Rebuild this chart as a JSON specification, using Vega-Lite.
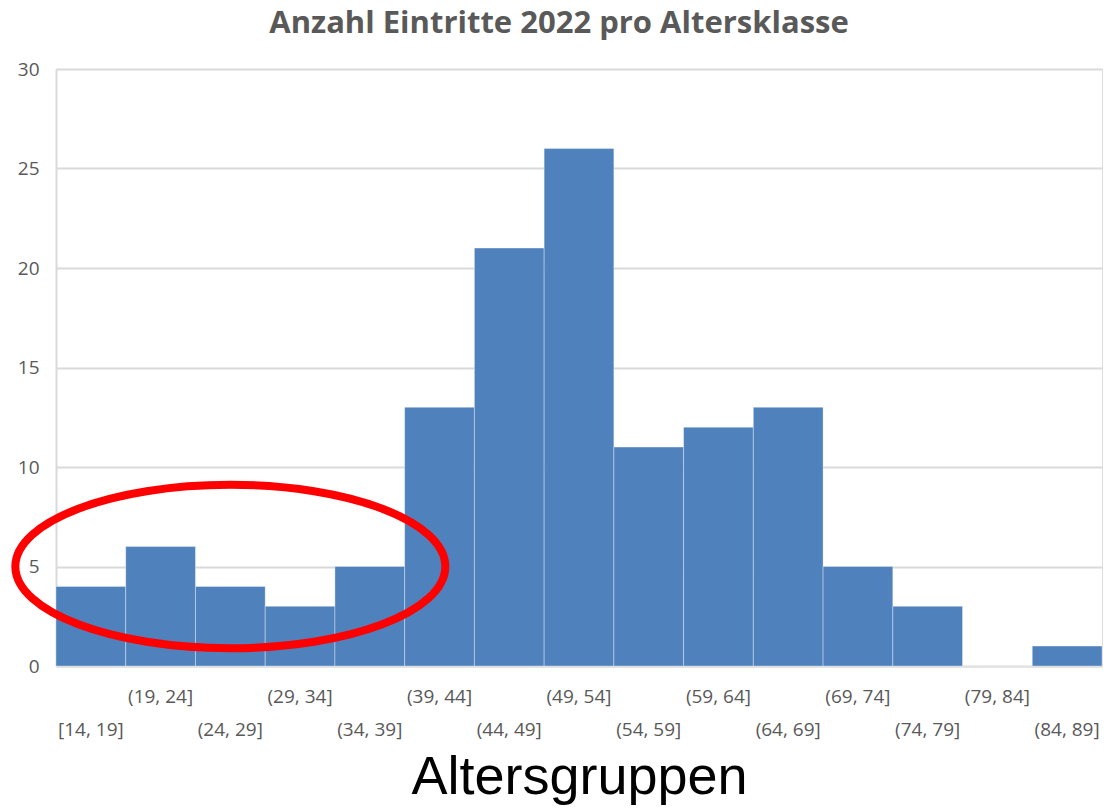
{
  "$schema": "https://vega.github.io/schema/vega-lite/v6.json",
  "width": 1046,
  "height": 597,
  "autosize": "none",
  "padding": {"left": 56, "top": 69, "right": 7, "bottom": 142},
  "background": "white",
  "title": {
    "text": "Anzahl Eintritte 2022 pro Altersklasse",
    "font": "Open Sans",
    "fontSize": 31,
    "fontWeight": "bold",
    "color": "#595959",
    "anchor": "middle",
    "dx": -20,
    "offset": 20
  },
  "datasets": {
    "bins": [
      {"Altersgruppe": "[14, 19]", "Anzahl": 4},
      {"Altersgruppe": "(19, 24]", "Anzahl": 6},
      {"Altersgruppe": "(24, 29]", "Anzahl": 4},
      {"Altersgruppe": "(29, 34]", "Anzahl": 3},
      {"Altersgruppe": "(34, 39]", "Anzahl": 5},
      {"Altersgruppe": "(39, 44]", "Anzahl": 13},
      {"Altersgruppe": "(44, 49]", "Anzahl": 21},
      {"Altersgruppe": "(49, 54]", "Anzahl": 26},
      {"Altersgruppe": "(54, 59]", "Anzahl": 11},
      {"Altersgruppe": "(59, 64]", "Anzahl": 12},
      {"Altersgruppe": "(64, 69]", "Anzahl": 13},
      {"Altersgruppe": "(69, 74]", "Anzahl": 5},
      {"Altersgruppe": "(74, 79]", "Anzahl": 3},
      {"Altersgruppe": "(79, 84]", "Anzahl": 0},
      {"Altersgruppe": "(84, 89]", "Anzahl": 1}
    ],
    "annotation": [
      {"Altersgruppe": "(24, 29]", "Anzahl": 5}
    ]
  },
  "layer": [
    {
      "data": {"name": "bins"},
      "mark": {"type": "bar", "color": "#4f81bd", "stroke": "#ffffff", "strokeOpacity": 0.35, "strokeWidth": 1},
      "encoding": {
        "x": {
          "field": "Altersgruppe",
          "type": "ordinal",
          "sort": null,
          "scale": {"paddingInner": 0, "paddingOuter": 0},
          "axis": {
            "title": "Altersgruppen",
            "titleFont": "Liberation Sans",
            "titleFontSize": 54,
            "titleFontWeight": "normal",
            "titleColor": "#000000",
            "titlePadding": 11,
            "labelAngle": 0,
            "labelFont": "Open Sans",
            "labelFontSize": 19,
            "labelColor": "#595959",
            "labelBaseline": "top",
            "labelPadding": {"condition": {"test": "substring(datum.value, 2, 3) == '9'", "value": 21}, "value": 54},
            "ticks": false,
            "domain": true,
            "domainColor": "#d9d9d9",
            "domainWidth": 2,
            "labelOverlap": false
          }
        },
        "y": {
          "field": "Anzahl",
          "type": "quantitative",
          "scale": {"domain": [0, 30]},
          "axis": {
            "title": null,
            "values": [0, 5, 10, 15, 20, 25, 30],
            "labelFont": "Open Sans",
            "labelFontSize": 19,
            "labelColor": "#595959",
            "labelPadding": 17,
            "ticks": false,
            "domain": true,
            "domainColor": "#d9d9d9",
            "domainWidth": 2,
            "grid": true,
            "gridColor": "#d9d9d9",
            "gridWidth": 2
          }
        }
      }
    },
    {
      "data": {"name": "annotation"},
      "mark": {
        "type": "point",
        "shape": "M -1 0 A 1 0.38 0 1 0 1 0 A 1 0.38 0 1 0 -1 0 Z",
        "filled": false,
        "stroke": "#ff0000",
        "strokeWidth": 8,
        "size": 184900,
        "opacity": 1
      },
      "encoding": {
        "x": {"field": "Altersgruppe", "type": "ordinal", "sort": null},
        "y": {"field": "Anzahl", "type": "quantitative"}
      }
    }
  ]
}
